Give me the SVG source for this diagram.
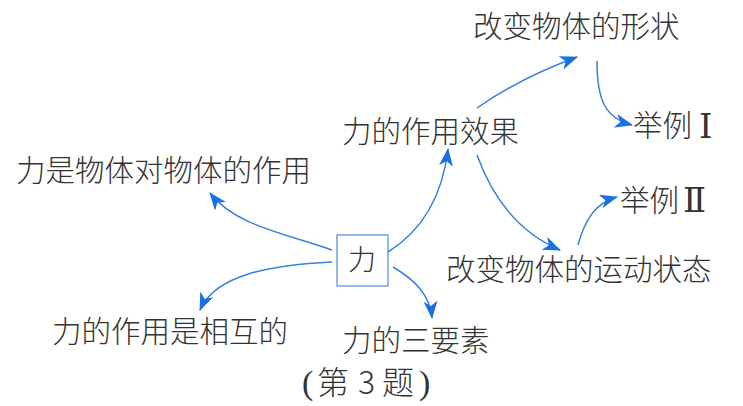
<svg xmlns="http://www.w3.org/2000/svg" width="743" height="406" viewBox="0 0 743 406">
<style>
.t{font-family:"Noto Sans CJK SC","Liberation Sans",sans-serif;font-size:29.5px;font-weight:300;fill:#333333}
.r{font-family:"DejaVu Serif","Liberation Serif",serif;font-size:34px}
.p{font-family:"Liberation Serif",serif;font-size:34px}
.c{fill:none;stroke:#3381e2;stroke-width:1.5}
</style>
<defs>
<marker id="ah" markerUnits="userSpaceOnUse" markerWidth="20" markerHeight="16" refX="17" refY="7" orient="auto">
<path d="M0,0 L18,7 L0,14 L5,7 Z" fill="#1a6fe6"/>
</marker>
</defs>
<rect width="743" height="406" fill="#ffffff"/>
<g id="connectors">
<path class="c" marker-end="url(#ah)" d="M388,252 C420,232 442,200 448,149"/>
<path class="c" marker-end="url(#ah)" d="M477,108 Q520,78 577,57"/>
<path class="c" marker-end="url(#ah)" d="M597,61 C597,100 605,118 632,125"/>
<path class="c" marker-end="url(#ah)" d="M477,155 C495,205 525,235 560,250"/>
<path class="c" marker-end="url(#ah)" d="M578,245 C585,220 595,203 617,197"/>
<path class="c" marker-end="url(#ah)" d="M332,250 C280,232 235,225 210,193"/>
<path class="c" marker-end="url(#ah)" d="M332,262 C270,265 215,275 200,310"/>
<path class="c" marker-end="url(#ah)" d="M393,267 C415,280 430,295 432,318"/>
</g>
<g id="li">
<rect x="337" y="235" width="51" height="51" fill="none" stroke="#4a8ad8" stroke-width="1.2"/>
<text class="t" x="362" y="270" text-anchor="middle" style="font-size:28px">力</text>
</g>
<g id="xiaoguo"><text class="t" x="342" y="142">力的作用效果</text></g>
<g id="xingzhuang"><text class="t" x="473" y="37">改变物体的形状</text></g>
<g id="li1"><text class="t" x="633" y="136">举例<tspan class="r" x="699" y="138">Ⅰ</tspan></text></g>
<g id="zhuangtai"><text class="t" x="446" y="280">改变物体的运动状态</text></g>
<g id="li2"><text class="t" x="620" y="211">举例<tspan class="r" x="683" y="212">Ⅱ</tspan></text></g>
<g id="dingyi"><text class="t" x="16" y="181">力是物体对物体的作用</text></g>
<g id="xianghu"><text class="t" x="52" y="342">力的作用是相互的</text></g>
<g id="sanyaosu"><text class="t" x="342" y="351">力的三要素</text></g>
<g id="caption"><text class="t" y="394" style="font-size:32px"><tspan class="p" x="302">(</tspan><tspan x="317">第</tspan><tspan x="358">3</tspan><tspan x="382">题</tspan><tspan class="p" x="419">)</tspan></text></g>
</svg>
